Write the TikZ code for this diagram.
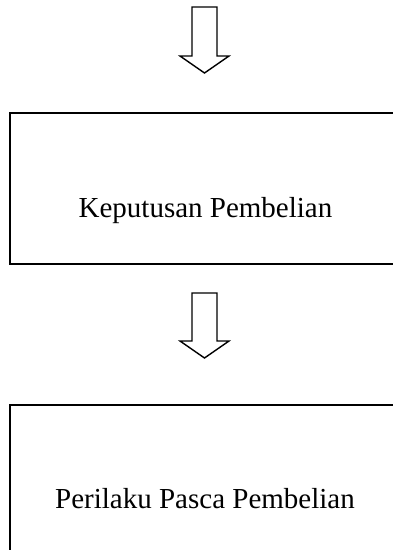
\documentclass[tikz,border=0pt]{standalone}
\usepackage{fontspec}
\setmainfont{Liberation Serif}
\usepackage{tikz}

\begin{document}
\begin{tikzpicture}[x=1pt,y=-1pt,
  stagebox/.style={draw,line width=2pt},
  stagetext/.style={font=\fontsize{29}{34}\selectfont,anchor=base,inner sep=0pt},
  flowarrow/.style={draw,line width=1.4pt,line join=miter,fill=white}]
\clip (0,0) rectangle (393,550);
\fill[white] (0,0) rectangle (393,550);
% hollow arrows
\foreach \top/\base/\tip in {7/56/73, 293/341/358}
  \draw[flowarrow] (192,\top) -- (217,\top) -- (217,\base) -- (229,\base)
    -- (204.5,\tip) -- (180,\base) -- (192,\base) -- cycle;
% stages
\draw[stagebox] (10,113) rectangle (420,264);
\node[stagetext] (keputusan) at (205.5,217) {Keputusan Pembelian};
\draw[stagebox] (10,405) rectangle (420,580);
\node[stagetext] (pasca) at (205,508) {Perilaku Pasca Pembelian};
\end{tikzpicture}
\end{document}
